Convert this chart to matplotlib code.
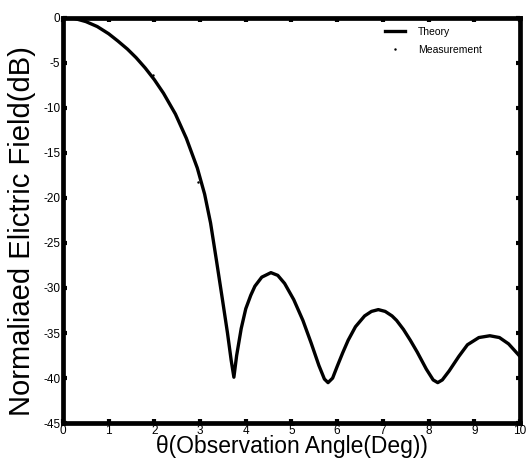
import matplotlib
matplotlib.use("Agg")
import matplotlib.pyplot as plt

theta = [0, 0.25, 0.5, 0.75, 1.0, 1.2, 1.41, 1.6, 1.8, 2.0, 2.2, 2.46, 2.7, 2.94, 3.1, 3.23,
         3.36, 3.49, 3.6, 3.68, 3.74, 3.8, 3.9, 4.0, 4.11, 4.2, 4.35, 4.55, 4.7, 4.85,
         5.05, 5.25, 5.43, 5.6, 5.72, 5.8, 5.9, 6.0, 6.12, 6.24, 6.4, 6.6, 6.75, 6.9,
         7.05, 7.2, 7.3, 7.45, 7.6, 7.75, 7.95, 8.1, 8.2, 8.3, 8.45, 8.66, 8.85, 9.1,
         9.34, 9.55, 9.75, 10.0]
theory = [0, -0.1, -0.45, -1.0, -1.8, -2.6, -3.5, -4.45, -5.6, -6.9, -8.4, -10.7, -13.4,
          -16.7, -19.6, -22.8, -27.0, -31.3, -35.0, -38.0, -39.9, -37.5, -34.5, -32.3,
          -30.8, -29.8, -28.8, -28.3, -28.6, -29.5, -31.3, -33.6, -36.1, -38.6, -40.1,
          -40.5, -40.0, -38.7, -37.2, -35.8, -34.3, -33.1, -32.6, -32.4, -32.6, -33.1,
          -33.6, -34.6, -35.8, -37.1, -39.0, -40.2, -40.5, -40.2, -39.2, -37.6, -36.3,
          -35.5, -35.3, -35.5, -36.2, -37.6]
meas_theta = [1.98, 2.96]
meas_vals = [-6.4, -18.2]

xticks = list(range(0, 11))
yticks = list(range(-45, 1, 5))

plt.rcParams['axes.unicode_minus'] = False
plt.rcParams['font.family'] = ['Liberation Sans', 'DejaVu Sans']

fig = plt.figure(figsize=(5.29, 4.61), dpi=100)
ax = fig.add_axes([0.119, 0.082, 0.864, 0.88])
ax.plot(theta, theory, color='black', lw=2.4, label='Theory', solid_joinstyle='round')
ax.plot(meas_theta, meas_vals, linestyle='none', marker='.', markersize=1.5,
        color='black', label='Measurement')
ax.set_xlim(0, 10)
ax.set_ylim(-45, 0)
ax.set_xticks(xticks)
ax.set_yticks(yticks)
ax.set_xticklabels([str(t) for t in xticks])
ax.set_yticklabels([str(t) for t in yticks])
for s in ax.spines.values():
    s.set_linewidth(3.4)
ax.tick_params(direction='in', length=3, width=3, top=True, right=True,
               labelsize=8.5, pad=2)
ax.tick_params(axis='x', pad=1)
ax.set_xlabel('θ(Observation Angle(Deg))', fontsize=16.5, labelpad=-1.5)
ax.set_ylabel('Normaliaed Elictric Field(dB)', fontsize=21)
ax.yaxis.set_label_coords(-0.06, 0.473)
leg = ax.legend(loc='upper left', bbox_to_anchor=(0.705, 0.977), frameon=False,
                fontsize=7.5, handlelength=1.9, borderaxespad=0, borderpad=0,
                labelspacing=0.75, handletextpad=1.25)
fig.savefig('out.png', dpi=100)
